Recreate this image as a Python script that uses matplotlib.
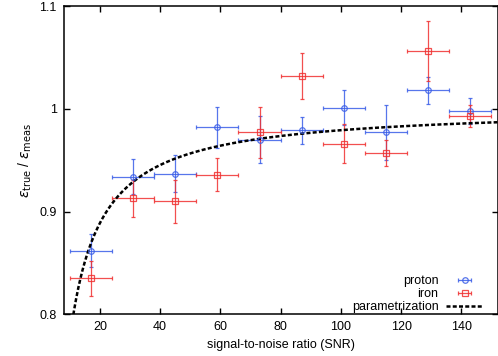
import numpy as np
import matplotlib.pyplot as plt

plt.rcParams['font.family'] = ['Liberation Sans', 'DejaVu Sans']
plt.rcParams['mathtext.fontset'] = 'dejavusans'

# SNR bins (centres) and half widths
snr = [17, 31, 45, 59, 73, 87, 101, 115, 129, 143]
snr_err = [7] * 10

proton = [0.862, 0.934, 0.937, 0.982, 0.970, 0.979, 1.001, 0.977, 1.018, 0.998]
proton_err = [0.016, 0.017, 0.018, 0.020, 0.023, 0.013, 0.017, 0.027, 0.013, 0.013]

iron = [0.835, 0.913, 0.910, 0.936, 0.977, 1.032, 0.966, 0.957, 1.056, 0.993]
iron_err = [0.017, 0.018, 0.021, 0.016, 0.025, 0.022, 0.019, 0.013, 0.029, 0.011]

# parametrization a - b/SNR
par_a = 1.0018
par_b = 2.26

fig = plt.figure(figsize=(4.98, 3.56), dpi=100)
ax = fig.add_axes([0.128, 0.117, 0.871, 0.866])

blue = '#3a5ee8'
red = '#f03030'

style = dict(mfc='none', mew=0.9, elinewidth=0.9, capsize=1.6, capthick=0.9,
             alpha=0.85)
ax.errorbar(snr, proton, xerr=snr_err, yerr=proton_err, fmt='o', color=blue,
            ms=4, **style)
ax.errorbar(snr, iron, xerr=snr_err, yerr=iron_err, fmt='s', color=red,
            ms=4.5, **style)

xs = np.linspace(10, 152, 400)
ax.plot(xs, par_a - par_b / xs, color='black', ls=(0, (1.6, 0.9)), lw=1.8)

# legend handles: horizontal bar only, like the original (drawn out of view)
h1 = ax.errorbar([-100], [0.5], xerr=[1], fmt='o', color=blue, ms=4, **style)
h2 = ax.errorbar([-100], [0.5], xerr=[1], fmt='s', color=red, ms=4.5, **style)
h3, = ax.plot([], [], color='black', ls=(0, (1.6, 0.9)), lw=1.8)

ax.set_xlim(8, 152)
ax.set_ylim(0.8, 1.1)
ax.set_xticks([20, 40, 60, 80, 100, 120, 140])
ax.set_yticks([0.8, 0.9, 1.0, 1.1])
ax.set_yticklabels(['0.8', '0.9', '1', '1.1'])
ax.tick_params(direction='in', top=True, right=True, length=4, width=1,
               labelsize=9, pad=5)
for s in ax.spines.values():
    s.set_linewidth(1.1)

ax.set_xlabel('signal-to-noise ratio (SNR)', fontsize=9, labelpad=4)
ax.set_ylabel(r'$\varepsilon_{\mathrm{true}}$ / $\varepsilon_{\mathrm{meas}}$',
              fontsize=10, labelpad=4)

ax.legend([h1, h2, h3], ['proton', 'iron', 'parametrization'],
          loc='lower right', bbox_to_anchor=(0.985, -0.02),
          frameon=False, markerfirst=False, fontsize=9,
          handlelength=3.0, handletextpad=0.6, labelspacing=0.08,
          borderaxespad=0.2)

fig.savefig('out.png', dpi=100)
